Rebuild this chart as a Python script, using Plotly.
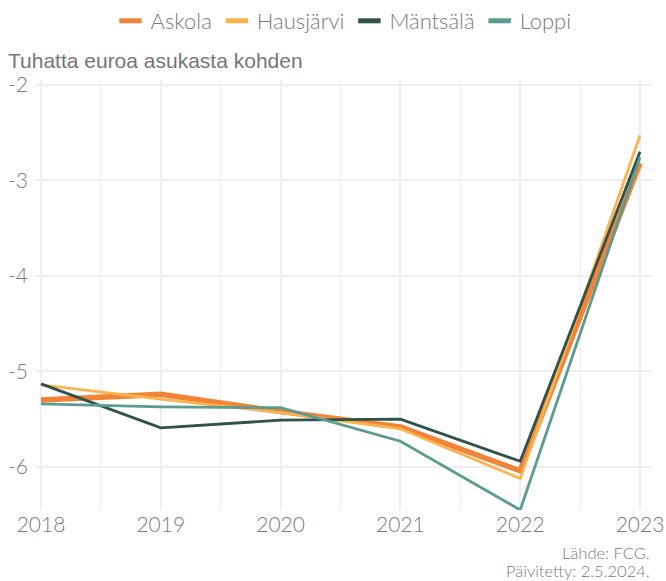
import plotly.graph_objects as go

years = [2018, 2019, 2020, 2021, 2022, 2023]
series_names = ["Askola", "Hausjärvi", "Mäntsälä", "Loppi"]
askola = [-5.30, -5.24, -5.42, -5.58, -6.04, -2.82]
hausjarvi = [-5.14, -5.29, -5.43, -5.60, -6.12, -2.53]
mantsala = [-5.13, -5.59, -5.51, -5.50, -5.94, -2.70]
loppi = [-5.34, -5.37, -5.38, -5.73, -6.45, -2.76]
values = [askola, hausjarvi, mantsala, loppi]
colors = ["#F28438", "#FDB24E", "#2E5249", "#5A9C8F"]
widths = [5.5, 2.8, 2.8, 2.8]

y_ticks = [-6, -5, -4, -3, -2]
y_tick_text = ["-6", "-5", "-4", "-3", "-2"]

W, H = 666, 581
ML, MR, MT, MB = 35, 14, 80, 71
plot_w = W - ML - MR
plot_h = H - MT - MB


def px_x(x):
    return (x - ML) / plot_w


def px_y(y):
    return (H - MB - y) / plot_h


fig = go.Figure()
for name, vals, col, w in zip(series_names, values, colors, widths):
    fig.add_trace(go.Scatter(
        x=years, y=vals, name=name, mode="lines", showlegend=False,
        line=dict(color=col, width=w),
    ))
# legend keys drawn as short thick horizontal bars
for name, col in zip(series_names, colors):
    fig.add_trace(go.Scatter(
        x=[None], y=[None], name=name, mode="markers",
        marker=dict(symbol="line-ew-open", size=19, color=col,
                    line=dict(color=col, width=5.5)),
    ))

grid = "#EFEFEF"
tick_font = dict(family="Lato", size=21, color="#7A7A7A", weight=300)

fig.update_layout(
    width=W, height=H,
    margin=dict(l=ML, r=MR, t=MT, b=MB),
    plot_bgcolor="white", paper_bgcolor="white",
    showlegend=True,
    legend=dict(
        orientation="h", x=0.5, xanchor="center", y=1.0, yref="container",
        yanchor="top",
        font=dict(family="Lato", size=22, color="#7A7A7A", weight=300),
        itemwidth=30, itemsizing="trace",
    ),
    xaxis=dict(
        range=[2017.95, 2023.1], tickvals=years, ticktext=[str(y) for y in years],
        showgrid=True, gridcolor=grid, gridwidth=1.5, zeroline=False,
        minor=dict(dtick=0.5, tick0=2017.5, showgrid=True, gridcolor=grid, gridwidth=1),
        tickfont=tick_font, ticks="", showline=False, automargin=False,
    ),
    yaxis=dict(
        range=[-6.45, -1.95], tickvals=y_ticks, ticktext=y_tick_text,
        showgrid=True, gridcolor=grid, gridwidth=1.5, zeroline=False,
        tickfont=tick_font, ticks="", showline=False, ticklabelstandoff=6,
        automargin=False,
    ),
    annotations=[
        dict(text="Tuhatta euroa asukasta kohden",
             x=px_x(6), xref="paper", y=px_y(61), yref="paper",
             xanchor="left", yanchor="middle", showarrow=False,
             font=dict(family="Liberation Sans", size=21, color="#767676")),
        dict(text="Lähde: FCG.",
             x=px_x(652), xref="paper", y=px_y(553), yref="paper",
             xanchor="right", yanchor="middle", showarrow=False,
             font=dict(family="Lato", size=16.5, color="#7A7A7A", weight=300)),
        dict(text="Päivitetty: 2.5.2024.",
             x=px_x(652), xref="paper", y=px_y(571), yref="paper",
             xanchor="right", yanchor="middle", showarrow=False,
             font=dict(family="Lato", size=16.5, color="#7A7A7A", weight=300)),
    ],
)

fig.write_html("out.html")
